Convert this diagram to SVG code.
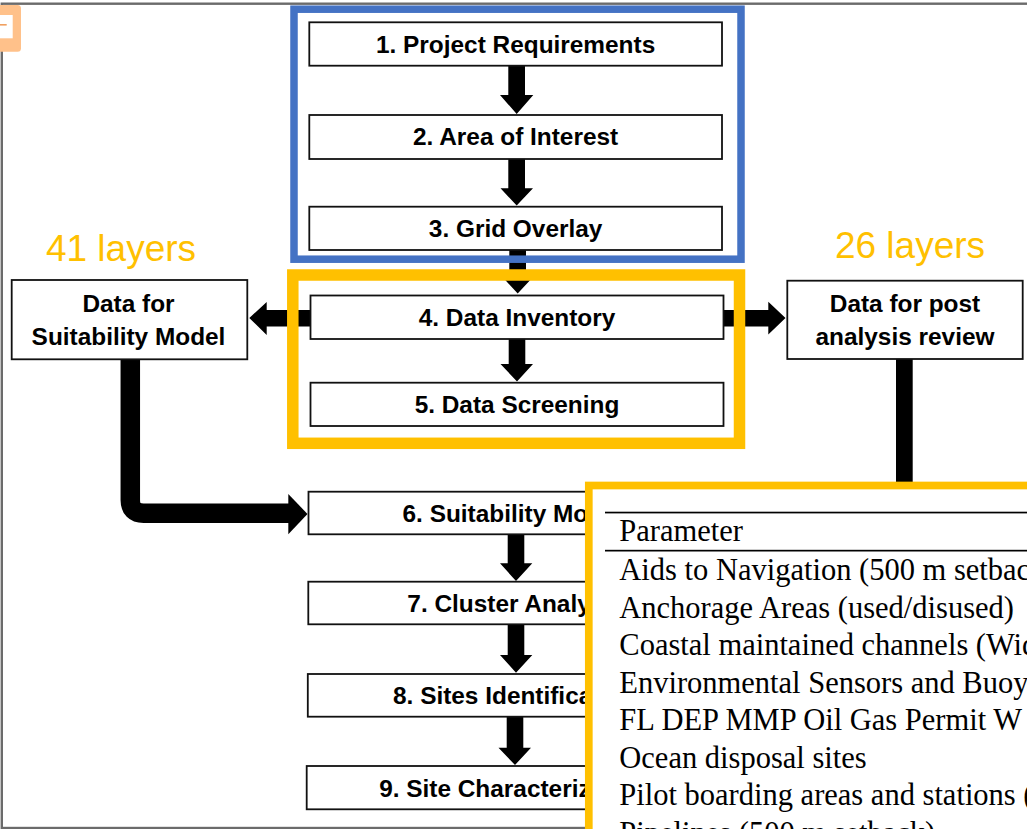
<svg xmlns="http://www.w3.org/2000/svg" width="1027" height="829" viewBox="0 0 1027 829">
<style>
.box{fill:#fff;stroke:#111;stroke-width:1.8}
.lbl{font-family:"Liberation Sans",Arial,sans-serif;font-weight:bold;font-size:24.4px;fill:#000;text-anchor:middle}
.cnt{font-family:"Liberation Sans",Arial,sans-serif;font-size:37px;fill:#FFC000;text-anchor:middle}
.tbl{font-family:"Liberation Serif","Times New Roman",serif;font-size:30.5px;fill:#000}
.arr{fill:#000}
</style>
<rect x="0" y="0" width="1027" height="829" fill="#fff"/>
<rect x="1.8" y="3.7" width="1100" height="824.3" fill="none" stroke="#6b6b6b" stroke-width="2.4"/>
<g id="icon">
<rect x="-6" y="5" width="27" height="46.7" rx="3.5" fill="#FFC18A"/>
<rect x="0" y="15" width="12.7" height="23.3" fill="#fff"/>
<rect x="0" y="24" width="6.7" height="1.6" fill="#F0A060"/>
</g>
<g id="connectors">
<polygon class="arr" points="508.3,65.7 525,65.7 525,95 533.3,95 516.7,114 500,95 508.3,95"/>
<polygon class="arr" points="508.3,159 525,159 525,188.3 533,188.3 516.7,205.5 500.5,188.3 508.3,188.3"/>
<polygon class="arr" points="509.3,250 526,250 526,276 534,276 517.7,293.5 501.5,276 509.3,276"/>
<polygon class="arr" points="508.7,339 525.3,339 525.3,364 533,364 517,381.5 500.5,364 508.7,364"/>
<polygon class="arr" points="507.7,534.3 524.3,534.3 524.3,563.3 532.3,563.3 516,581 500,563.3 507.7,563.3"/>
<polygon class="arr" points="507.7,624.3 524.3,624.3 524.3,655 532.3,655 516,672.7 500,655 507.7,655"/>
<polygon class="arr" points="506.7,716.7 523.3,716.7 523.3,747.7 531,747.7 515,765 498.5,747.7 506.7,747.7"/>
<polygon class="arr" points="310.5,310 266.7,310 266.7,302 249.3,318 266.7,335 266.7,326.5 310.5,326.5"/>
<polygon class="arr" points="723.5,310 768.3,310 768.3,301.7 785.5,318 768.3,334.5 768.3,326.5 723.5,326.5"/>
<path d="M130.3,359 V500 Q130.3,513.3 143.6,513.3 H289" fill="none" stroke="#000" stroke-width="19.5"/>
<polygon class="arr" points="288.3,494 307.5,514 288.3,534.3"/>
<rect class="arr" x="896" y="359" width="16.7" height="130"/>
</g>
<g id="frame-blue">
<rect x="294" y="9.2" width="447" height="250" fill="none" stroke="#4472C4" stroke-width="7.5"/>
</g>
<g id="n1"><rect class="box" x="309.3" y="22.3" width="412.7" height="43.4"/><text class="lbl" x="515.6" y="53.3">1. Project Requirements</text></g>
<g id="n2"><rect class="box" x="309.3" y="115" width="412.7" height="44"/><text class="lbl" x="515.6" y="145.3">2. Area of Interest</text></g>
<g id="n3"><rect class="box" x="309.3" y="206.7" width="412.7" height="43.3"/><text class="lbl" x="515.6" y="236.8">3. Grid Overlay</text></g>
<g id="n4"><rect class="box" x="310.5" y="295.5" width="413" height="43.5"/><text class="lbl" x="517" y="325.5">4. Data Inventory</text></g>
<g id="n5"><rect class="box" x="310.5" y="382.7" width="413" height="43.3"/><text class="lbl" x="517" y="413">5. Data Screening</text></g>
<g id="frame-yellow">
<rect x="292.8" y="275" width="446.7" height="168.3" fill="none" stroke="#FFC000" stroke-width="11.5"/>
</g>
<g id="n-left"><rect class="box" x="11.7" y="280" width="235.6" height="79.3"/><text class="lbl" x="128.5" y="311.7">Data for</text><text class="lbl" x="128.5" y="345">Suitability Model</text></g>
<g id="n-right"><rect class="box" x="787.3" y="280.7" width="235.4" height="78.3"/><text class="lbl" x="905" y="311.7">Data for post</text><text class="lbl" x="905" y="345">analysis review</text></g>
<text class="cnt" x="121" y="261">41 layers</text>
<text class="cnt" x="910" y="258.3">26 layers</text>
<g id="n6"><rect class="box" x="308.5" y="491.7" width="413" height="42.6"/><text class="lbl" x="513" y="521.7">6. Suitability Model</text></g>
<g id="n7"><rect class="box" x="308.3" y="581.7" width="413" height="42.6"/><text class="lbl" x="516" y="612">7. Cluster Analysis</text></g>
<g id="n8"><rect class="box" x="307.8" y="674" width="413" height="42.7"/><text class="lbl" x="515" y="704.3">8. Sites Identification</text></g>
<g id="n9"><rect class="box" x="306.7" y="766" width="413" height="43.3"/><text class="lbl" x="514" y="796.5">9. Site Characterization</text></g>
<g id="table">
<rect x="588.8" y="485.5" width="500" height="400" fill="#fff" stroke="#FFC000" stroke-width="7.7"/>
<rect x="605" y="511.7" width="430" height="1.7" fill="#000"/>
<rect x="605" y="549.8" width="430" height="1.7" fill="#000"/>
<text class="tbl" x="619.3" y="541">Parameter</text>
<text class="tbl" x="619.3" y="580">Aids to Navigation (500 m setback)</text>
<text class="tbl" x="619.3" y="617.6">Anchorage Areas (used/disused)</text>
<text class="tbl" x="619.3" y="655.1">Coastal maintained channels (Wid</text>
<text class="tbl" x="619.3" y="692.7">Environmental Sensors and Buoys</text>
<text class="tbl" x="619.3" y="730.2">FL DEP MMP Oil Gas Permit W</text>
<text class="tbl" x="619.3" y="767.8">Ocean disposal sites</text>
<text class="tbl" x="619.3" y="805.3">Pilot boarding areas and stations (</text>
<text class="tbl" x="619.3" y="842.9">Pipelines (500 m setback)</text>
</g>
</svg>
